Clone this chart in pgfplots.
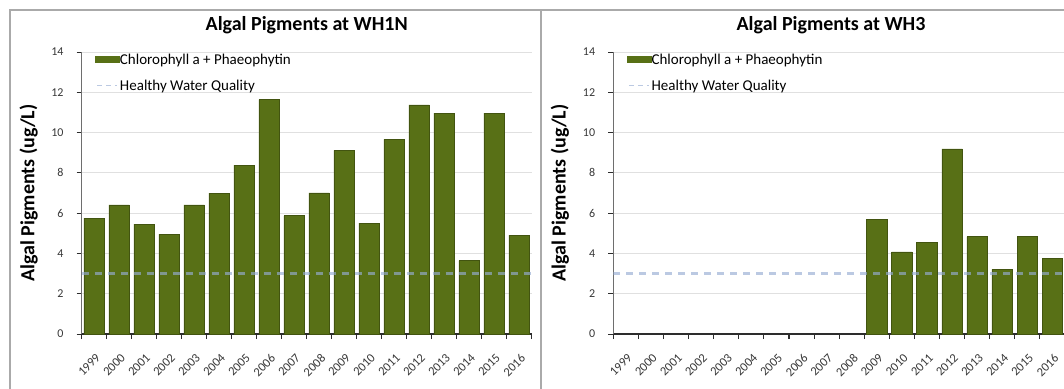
\documentclass[border=0pt]{standalone}
\usepackage{fontspec}
\setmainfont{Carlito}
\usepackage{pgfplots}
\pgfplotsset{compat=1.18}
\definecolor{barcol}{RGB}{88,112,22}
\definecolor{baredge}{RGB}{66,84,16}
\definecolor{gridgray}{RGB}{224,224,224}
\definecolor{axisdark}{RGB}{45,45,45}
\definecolor{axisgray}{RGB}{110,110,110}
\definecolor{tickgray}{RGB}{55,55,55}
\definecolor{dashcol}{RGB}{150,172,210}
\definecolor{framegray}{RGB}{170,170,170}
\pgfplotsset{
  myaxis/.style={
    scale only axis, height=282pt,
    xmin=-0.5, xmax=17.5, ymin=0, ymax=14,
    ytick={0,2,...,14},
    xtick={0,1,...,17},
    xticklabels={1999,2000,2001,2002,2003,2004,2005,2006,2007,2008,2009,2010,2011,2012,2013,2014,2015,2016},
    minor xtick={-0.5,0.5,...,17.5},
    major x tick style={draw=none},
    minor x tick style={draw=axisdark, line width=1.1pt},
    axis lines=left, axis line style={-},
    x axis line style={draw=axisdark, line width=1.3pt},
    y axis line style={draw=axisgray, line width=0.8pt},
    ymajorgrids, grid style={gridgray, line width=0.8pt},
    tick align=outside, major tick length=5pt, minor tick length=5pt,
    major y tick style={draw=axisdark, line width=0.8pt},
    /pgf/number format/assume math mode=true,
    yticklabel style={font=\fontsize{12}{14}\selectfont, text=tickgray, inner sep=0pt, anchor=east, xshift=-13pt},
    xticklabel style={font=\fontsize{12.5}{14}\selectfont, text=tickgray, inner sep=0pt, xshift=1pt, yshift=-14pt, rotate=45, anchor=north east},
    title style={font=\fontsize{20}{24}\selectfont\bfseries, anchor=base, yshift=15pt},
    ylabel={Algal Pigments (ug/L)},
    ylabel style={font=\fontsize{20}{24}\selectfont\bfseries, at={(axis description cs:-0.118,0.5)}, anchor=center},
    legend cell align=left,
    legend style={draw=none, fill=none, at={(axis description cs:0,1)}, anchor=north west, xshift=10pt, yshift=1pt,
      font=\fontsize{15}{18}\selectfont, row sep=13pt, nodes={inner sep=0.5pt}},
  },
  barstyle/.style={ybar, bar width=0.82, fill=barcol, draw=baredge, line width=0.6pt,
    legend image code/.code={\fill[barcol] (0pt,-3pt) rectangle (24pt,3pt);}},
  dashstyle/.style={dashcol, line width=2.6pt, dash pattern=on 7pt off 6pt, opacity=0.65,
    legend image code/.code={\draw[dashcol, line width=1.4pt, dash pattern=on 5pt off 4pt] (2pt,0pt) -- (22pt,0pt);}},
}
\begin{document}
\begin{tikzpicture}[x=1pt,y=1pt]
\path[use as bounding box] (0,0) rectangle (1064,388);
\draw[framegray, line width=1.5pt] (10,-10) -- (10,378) -- (1074,378);
\draw[framegray, line width=2.5pt] (541,-10) -- (541,378);
\begin{axis}[myaxis, width=450pt, at={(81.7pt,54pt)}, anchor=south west,
  title={Algal Pigments at WH1N}, title style={at={(axis description cs:0.5,1)}}]
\addplot[barstyle] coordinates {
(0,5.75) (1,6.41) (2,5.45) (3,4.96) (4,6.41) (5,6.99) (6,8.39) (7,11.64) (8,5.87)
(9,7.0) (10,9.12) (11,5.5) (12,9.66) (13,11.37) (14,10.97) (15,3.64) (16,10.97) (17,4.91)};
\addlegendentry{Chlorophyll a + Phaeophytin}
\addplot[dashstyle] coordinates {(-0.5,3) (17.5,3)};
\addlegendentry{Healthy Water Quality}
\end{axis}
\begin{axis}[myaxis, width=451.7pt, at={(613.3pt,54pt)}, anchor=south west,
  title={Algal Pigments at WH3}, title style={at={(axis description cs:0.482,1)}}]
\addplot[barstyle] coordinates {
(10,5.70) (11,4.08) (12,4.55) (13,9.19) (14,4.83) (15,3.21) (16,4.83) (17,3.74)};
\addlegendentry{Chlorophyll a + Phaeophytin}
\addplot[dashstyle] coordinates {(-0.5,3) (17.5,3)};
\addlegendentry{Healthy Water Quality}
\end{axis}
\end{tikzpicture}
\end{document}
